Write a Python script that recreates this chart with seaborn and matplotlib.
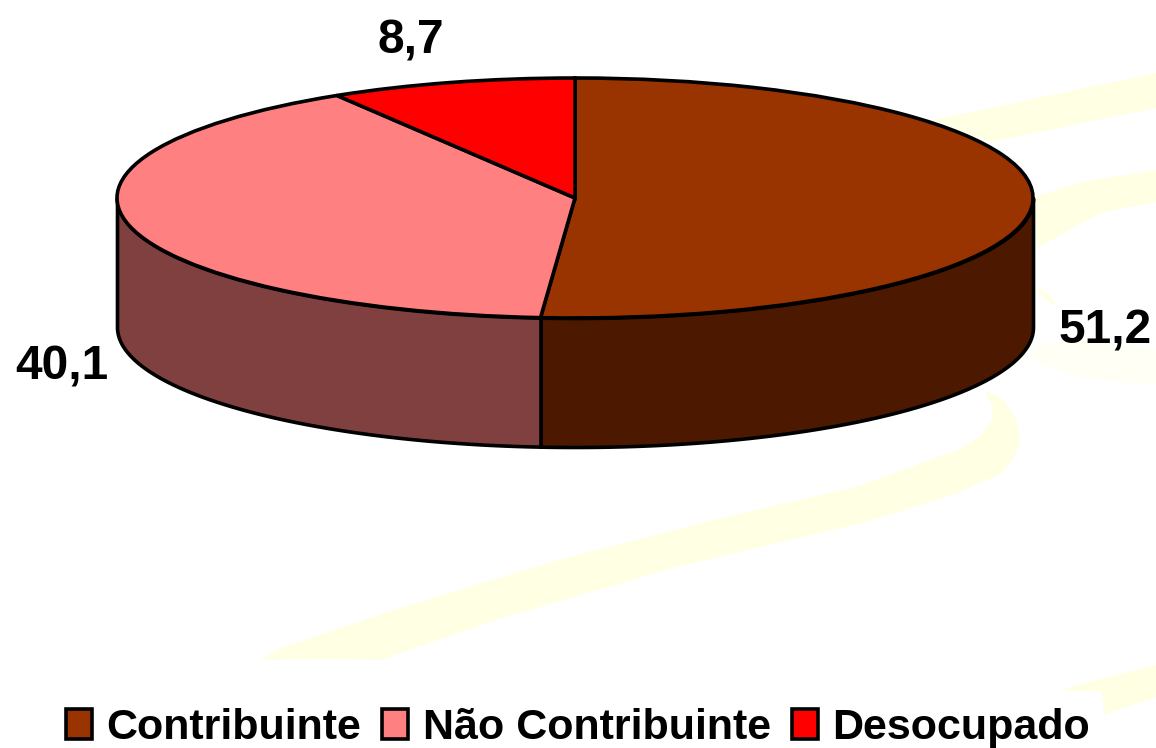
import numpy as np
import matplotlib
matplotlib.use('Agg')
import matplotlib.pyplot as plt
import seaborn as sns

categories = ['Contribuinte', 'Não Contribuinte', 'Desocupado']
values = [51.2, 40.1, 8.7]
value_labels = ['51,2', '40,1', '8,7']
top_colors = ['#993300', '#FF8080', '#FF0000']
side_colors = ['#4C1900', '#804040', '#800000']

# pie geometry on the canvas, in pixels
W, H = 1156, 748
CX, CY, RX, RY, DEPTH = 575, 198, 458, 120, 129
LW = 2.6


def px(x, y):
    # canvas pixel to squashed pie units
    return (x - CX) / RX, (CY - y) / RY


# faint yellow background swooshes (canvas pixels)
swooshes = [
    [(260, 660), (281, 648), (394, 610), (548, 563), (701, 523), (855, 487), (958, 450), (980, 436), (992, 420),
     (992, 405), (984, 390), (1004, 400), (1016, 420), (1020, 440), (1014, 458), (1000, 474), (958, 493),
     (866, 522), (676, 567), (496, 620), (381, 660), (322, 659)],
    [(933, 120), (1156, 73), (1156, 108), (990, 142)],
    [(1033, 197), (1083, 182), (1156, 170), (1156, 202), (1100, 213), (1037, 248)],
    [(1058, 690), (1156, 665), (1156, 697), (1104, 715), (1102, 692)],
    [(1035, 288), (1048, 293), (1058, 307), (1046, 300)],
]
faint_patch = [(1030, 345), (1085, 338), (1156, 350), (1156, 385), (1080, 378), (1030, 360)]

sns.set_theme(style='white')
plt.rcParams['font.family'] = ['Liberation Sans', 'DejaVu Sans']

fig, ax = plt.subplots(figsize=(W / 100, H / 100), dpi=100)
fig.subplots_adjust(left=0, right=1, bottom=0, top=1)

for pts in swooshes:
    ax.fill(*zip(*[px(*p) for p in pts]), color='#FFFFE3', lw=0, zorder=0)
ax.fill(*zip(*[px(*p) for p in faint_patch]), color='#FFFFF5', lw=0, zorder=0)

# side wall, only the front half (angles below zero) can be seen
bounds = 90 - np.cumsum([0] + values) * 3.6
for i, color in enumerate(side_colors):
    start = min(bounds[i], 0)
    end = max(bounds[i + 1], -180)
    if start <= end:
        continue
    theta = np.radians(np.linspace(start, end, 120))
    ax.fill_between(np.cos(theta), np.sin(theta), np.sin(theta) - DEPTH / RY,
                    facecolor=color, edgecolor='black', linewidth=LW, zorder=1)

wedges, _ = ax.pie(values, colors=top_colors, startangle=90, counterclock=False, radius=1,
                   wedgeprops={'edgecolor': 'black', 'linewidth': LW, 'zorder': 2})

# undo the equal aspect from pie so the disc gets flat
ax.set_aspect('auto')
ax.set_xlim(px(0, 0)[0], px(W, 0)[0])
ax.set_ylim(px(0, H)[1], px(0, 0)[1])

label_pos = [(1105, 331), (62, 367), (411, 41)]
for txt, pos in zip(value_labels, label_pos):
    ax.text(*px(*pos), txt, fontsize=34.5, fontweight='bold', color='black',
            ha='center', va='center', zorder=3)

ax.legend(wedges, categories, loc='lower center', bbox_to_anchor=(0.5, 0.0), ncol=3, frameon=False,
          prop={'size': 31, 'weight': 'bold'}, handlelength=0.6, handleheight=0.7,
          handletextpad=0.33, columnspacing=0.49, borderpad=0, borderaxespad=0, labelcolor='black')

fig.savefig('out.png', dpi=100, facecolor='white')
